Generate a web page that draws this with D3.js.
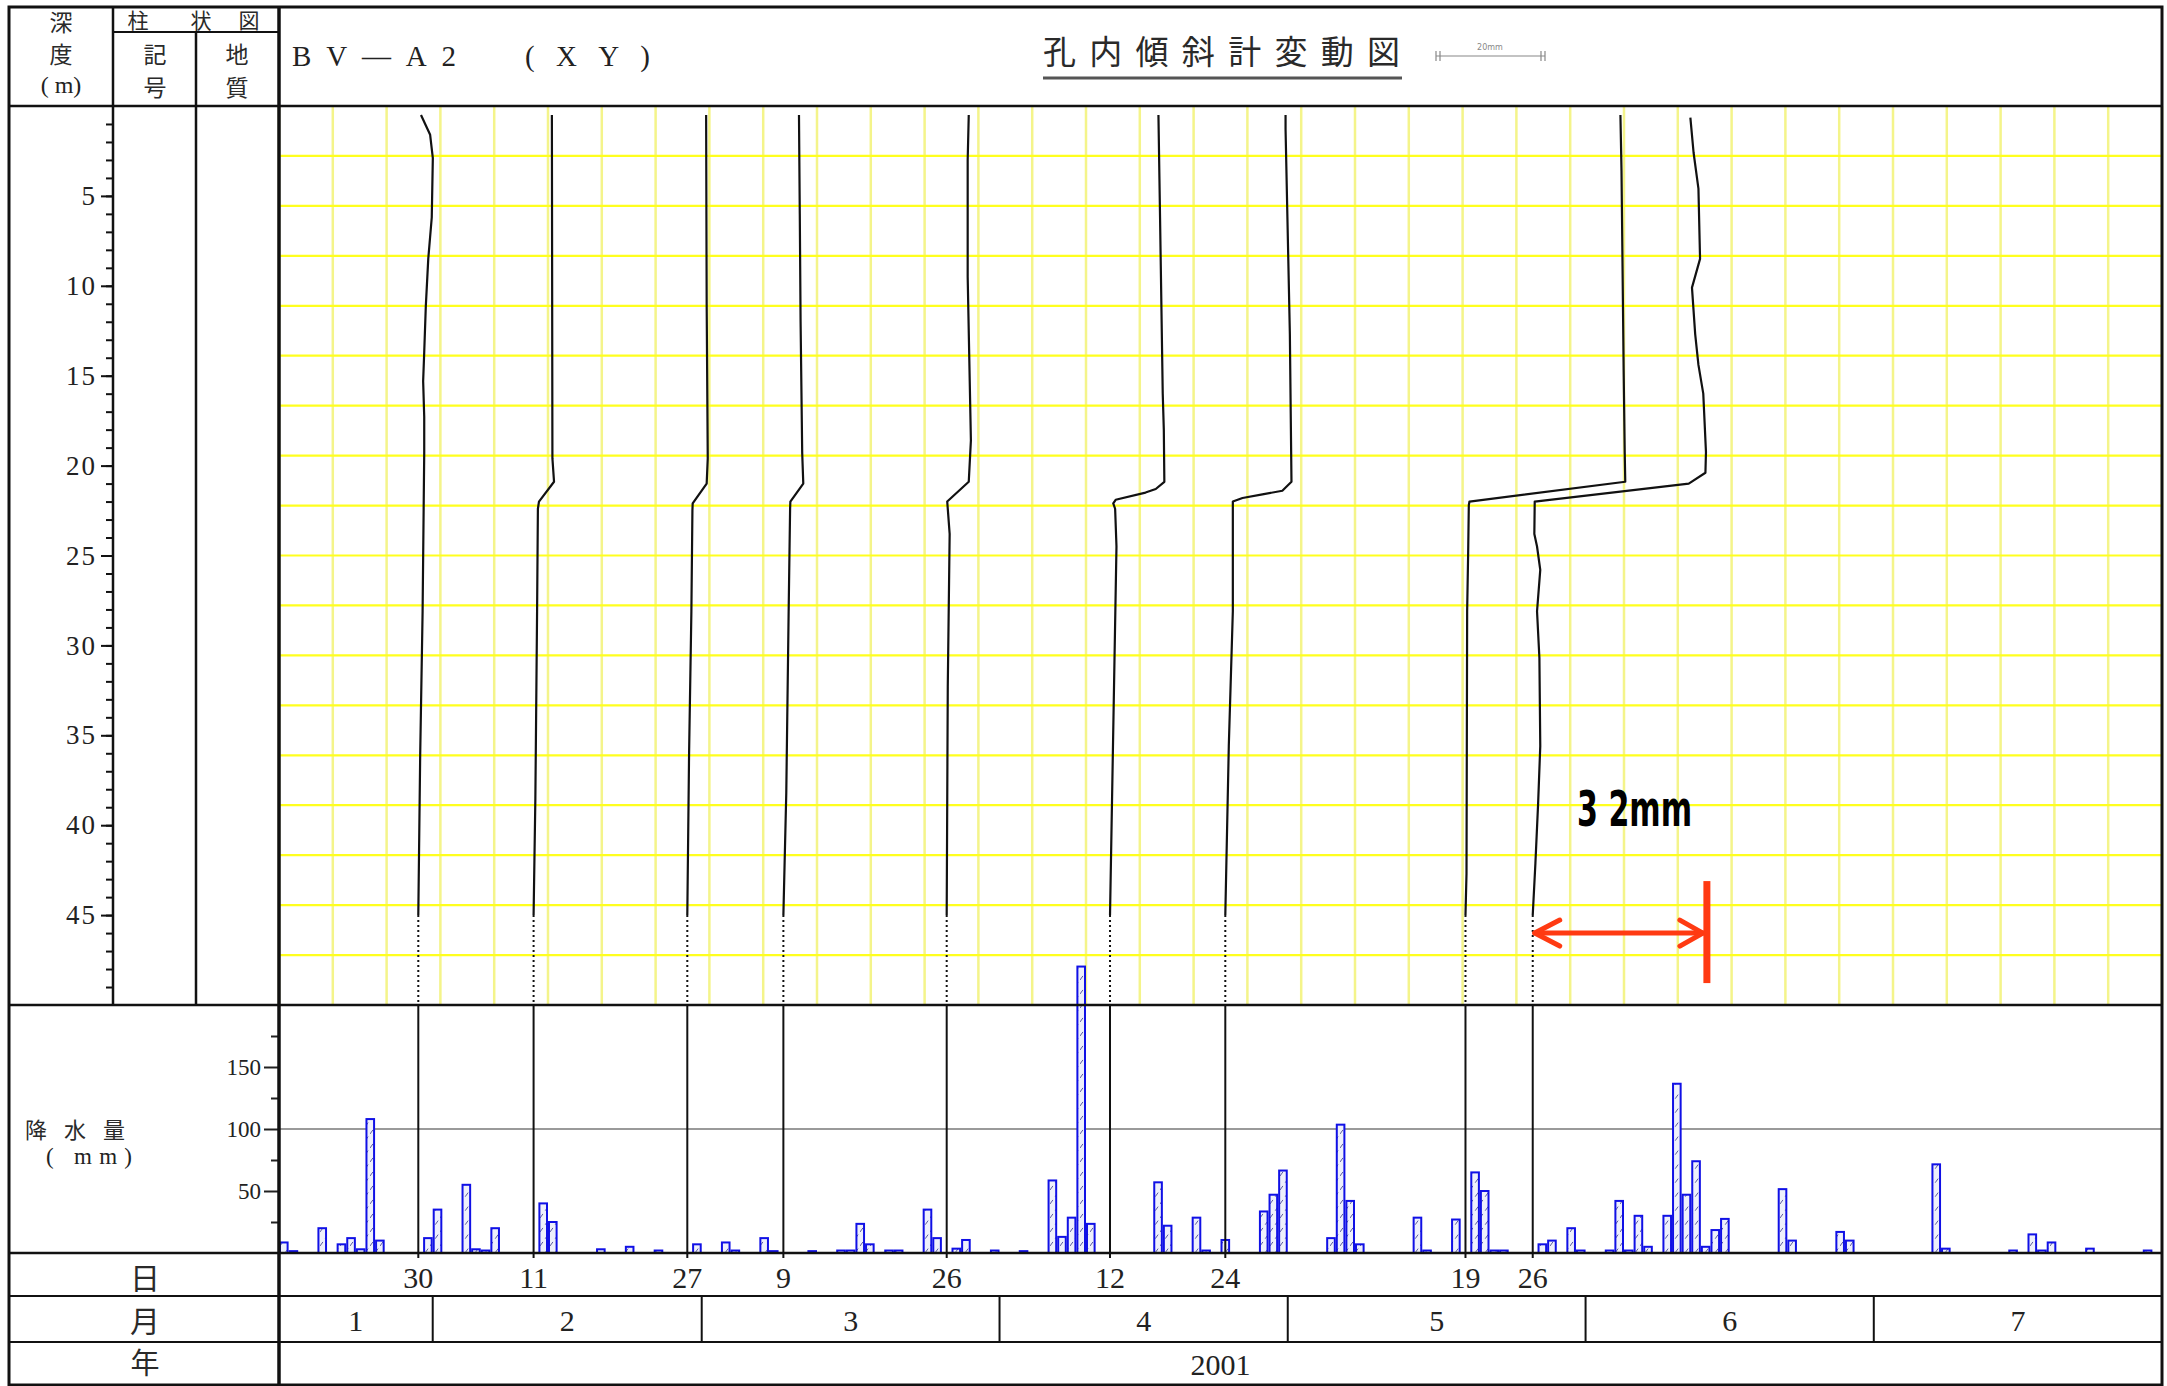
<!DOCTYPE html>
<html lang="ja">
<head>
<meta charset="utf-8">
<title>BV-A2 孔内傾斜計変動図</title>
<script src="https://cdn.jsdelivr.net/npm/d3@7"></script>
<style>
    body { margin: 0; background: #fff; }
    svg { display: block; }
    .jp { font-family: "Noto Sans CJK JP", sans-serif; fill: #2a2a2a; }
    .num { font-family: "Liberation Serif", "DejaVu Serif", serif; fill: #222; }
</style>
</head>
<body>
<div id="chart"></div>
<script>

// reading dates of the inclinometer and the day labels under them
var readDates = ["2001-01-30", "2001-02-11", "2001-02-27", "2001-03-09", "2001-03-26",
                 "2001-04-12", "2001-04-24", "2001-05-19", "2001-05-26"];
var dayLabels = ["30", "11", "27", "9", "26", "12", "24", "19", "26"];

// displacement profiles, [depth m, displacement mm] (relative to the bottom)
var prof0130 = [[0.5,0.5],[1.6,2.2],[2.9,2.7],[6.2,2.5],[8.5,1.85],[11.1,1.4],[13.7,1.1],[15.3,0.9],
                [17.3,1.1],[19.3,1.1],[28.1,0.8],[36.1,0.35],[45,0]];
var prof0211 = [[0.5,3.4],[19.6,3.5],[20.9,3.8],[22.0,1.0],[22.4,0.8],[28.1,0.65],[38.5,0.33],[45,0]];
var prof0227 = [[0.5,3.5],[11,3.6],[19.6,3.8],[21.0,3.6],[22.1,1.0],[22.5,0.95],[28.1,0.76],[36,0.33],[45,0]];
var prof0309 = [[0.5,2.9],[6,3.05],[12,3.2],[19.3,3.5],[21.0,3.7],[22.0,1.3],[22.4,1.25],[28.1,0.98],
                [38.2,0.54],[45,0]];
var prof0326 = [[0.5,4.1],[3,3.9],[9.5,3.9],[18.6,4.5],[20.9,4.1],[22.0,0.1],[23.8,0.55],[32.3,0.2],[45,0]];
var prof0412 = [[0.5,9.0],[6.2,9.3],[16.0,9.8],[18,10.0],[20.9,10.1],[21.3,8.5],[21.5,6.6],[21.9,1.05],
                [22.1,0.6],[22.4,0.95],[24.5,1.2],[35.6,0.55],[45,0]];
var prof0424 = [[0.5,11.2],[1.3,11.2],[12.7,12.0],[20.9,12.3],[21.4,10.6],[21.6,6.9],[21.8,3.2],[22.0,1.4],
                [28.1,1.4],[35.6,0.65],[45,0]];
var prof0519 = [[0.5,28.8],[3.6,29.0],[14.7,29.4],[19.3,29.6],[20.9,29.7],[22.0,0.74],[22.2,0.62],
                [24.8,0.5],[28.1,0.31],[42.7,0.19],[45,0]];
var prof0526 = [[0.65,29.3],[2.6,29.9],[4.6,30.8],[8.5,31.1],[10.1,29.6],[12.7,30.2],[14.4,30.8],[16.0,31.7],
                [19.25,32.2],[20.4,32.1],[21.0,29.0],[22.0,0.37],[23.8,0.3],[24.5,0.8],[25.8,1.4],[28.1,0.8],
                [30.7,1.24],[35.6,1.4],[38.8,1.0],[42.1,0.5],[45,0]];
var profiles = [prof0130, prof0211, prof0227, prof0309, prof0326, prof0412, prof0424, prof0519, prof0526];

// daily rainfall (mm)
var rainfall = [
    ["2001-01-16",8.5],["2001-01-17",1.5],["2001-01-20",20],["2001-01-22",7],["2001-01-23",12],
    ["2001-01-24",3],["2001-01-25",108],["2001-01-26",10],["2001-01-31",12],["2001-02-01",35],
    ["2001-02-04",55],["2001-02-05",3],["2001-02-06",2],["2001-02-07",20],["2001-02-12",40],
    ["2001-02-13",25],["2001-02-18",3],["2001-02-21",5],["2001-02-24",2],["2001-02-28",7],
    ["2001-03-03",8.5],["2001-03-04",2],["2001-03-07",12],["2001-03-08",1.5],["2001-03-12",1.5],
    ["2001-03-15",2],["2001-03-16",2],["2001-03-17",23.5],["2001-03-18",7],["2001-03-20",2],
    ["2001-03-21",2],["2001-03-24",35],["2001-03-25",12],["2001-03-27",3.5],["2001-03-28",10.5],
    ["2001-03-31",2],["2001-04-03",1.5],["2001-04-06",58.5],["2001-04-07",13],["2001-04-08",28.5],
    ["2001-04-09",231],["2001-04-10",23.5],["2001-04-17",57],["2001-04-18",22],["2001-04-21",28.5],
    ["2001-04-22",2],["2001-04-24",10.5],["2001-04-28",33.5],["2001-04-29",47],["2001-04-30",66.5],
    ["2001-05-05",12],["2001-05-06",103.5],["2001-05-07",42],["2001-05-08",7],["2001-05-14",28.5],
    ["2001-05-15",2],["2001-05-18",27],["2001-05-20",65],["2001-05-21",50],["2001-05-22",2],
    ["2001-05-23",2],["2001-05-27",7],["2001-05-28",10],["2001-05-30",20],["2001-05-31",2],
    ["2001-06-03",2],["2001-06-04",42],["2001-06-05",2],["2001-06-06",30],["2001-06-07",5],
    ["2001-06-09",30],["2001-06-10",136.5],["2001-06-11",47],["2001-06-12",74],["2001-06-13",5],
    ["2001-06-14",18.5],["2001-06-15",27.5],["2001-06-21",51.5],["2001-06-22",10],["2001-06-27",17],
    ["2001-06-28",10],["2001-07-07",71.5],["2001-07-08",3.5],["2001-07-15",2],["2001-07-17",15],
    ["2001-07-18",2],["2001-07-19",8.5],["2001-07-23",3.5],["2001-07-29",2]
];

var months = [1, 2, 3, 4, 5, 6, 7];
// month band edges (first = axis start, last = axis end)
var monthEdges = ["2001-01-16", "2001-02-01", "2001-03-01", "2001-04-01", "2001-05-01",
                  "2001-06-01", "2001-07-01", "2001-07-31"];
var depthTicks = [5, 10, 15, 20, 25, 30, 35, 40, 45];
var rainTicks = [50, 100, 150];
var markedMax = 32;   // mm, shown with the red arrow

var W = 2167, H = 1386;
var L = 9, T = 7, R = 2162, B = 1385;
var col1 = 113, col2 = 196, plotL = 279;
var headB = 106, depthB = 1005, rainB = 1253, dayB = 1296, monB = 1342;

var parse = d3.timeParse("%Y-%m-%d");

var svg = d3.select("#chart").append("svg")
    .attr("width", W)
    .attr("height", H);

// scales
var xTime = d3.scaleTime()
    .domain([parse(monthEdges[0]), parse(monthEdges[monthEdges.length - 1])])
    .range([plotL, R]);
var xDisp = d3.scaleLinear().domain([0, 350]).range([plotL, R]);   // 10 mm per grid cell
var yDepth = d3.scaleLinear().domain([0, 50]).range([headB, depthB]);
var yRain = d3.scaleLinear().domain([0, 200]).range([rainB, depthB]);

function mm(v) { return xDisp(v) - xDisp(0); }
function noon(s) { return d3.timeHour.offset(parse(s), 12); }

// hatch for rain bars
var defs = svg.append("defs");
var pat = defs.append("pattern")
    .attr("id", "hatch")
    .attr("patternUnits", "userSpaceOnUse")
    .attr("width", 10).attr("height", 14);
pat.append("rect").attr("width", 10).attr("height", 14).attr("fill", "#eef0fb");
pat.append("line")
    .attr("x1", 0).attr("y1", 14).attr("x2", 10).attr("y2", 0)
    .attr("stroke", "#5c5c9e").attr("stroke-width", 1)
    .attr("stroke-dasharray", "5,4");

// yellow grid
svg.append("g").selectAll("line")
    .data(d3.range(0, 351, 10))
    .enter().append("line")
    .attr("x1", d => xDisp(d)).attr("x2", d => xDisp(d))
    .attr("y1", headB).attr("y2", depthB)
    .attr("stroke", "#f4f48a").attr("stroke-width", 2.5);
svg.append("g").selectAll("line")
    .data(d3.range(19))
    .enter().append("line")
    .attr("x1", plotL).attr("x2", R)
    .attr("y1", d => yDepth(d * 50 / 18)).attr("y2", d => yDepth(d * 50 / 18))
    .attr("stroke", "#ffff1e").attr("stroke-width", 2.2);

// 100 mm line in rain panel
svg.append("line")
    .attr("x1", plotL).attr("x2", R)
    .attr("y1", yRain(100)).attr("y2", yRain(100))
    .attr("stroke", "#9a9a9a").attr("stroke-width", 2);

// rain bars
svg.append("g").selectAll("rect")
    .data(rainfall)
    .enter().append("rect")
    .attr("x", d => xTime(parse(d[0])) + 1)
    .attr("width", d => xTime(d3.timeDay.offset(parse(d[0]), 1)) - xTime(parse(d[0])) - 2)
    .attr("y", d => yRain(d[1]))
    .attr("height", d => yRain(0) - yRain(d[1]))
    .attr("fill", "url(#hatch)")
    .attr("stroke", "#1010e6").attr("stroke-width", 2);

// reading day lines: dotted below the profile, solid through the rain panel
var rd = svg.append("g");
readDates.forEach(function(s) {
    var x = xTime(noon(s));
    rd.append("line")
        .attr("x1", x).attr("x2", x).attr("y1", yDepth(45)).attr("y2", depthB)
        .attr("stroke", "#111").attr("stroke-width", 2).attr("stroke-dasharray", "2,3");
    rd.append("line")
        .attr("x1", x).attr("x2", x).attr("y1", depthB).attr("y2", rainB + 5)
        .attr("stroke", "#111").attr("stroke-width", 2);
});

// profiles
var line = d3.line()
    .x(d => d.x0 + mm(d[1]))
    .y(d => yDepth(d[0]));
profiles.forEach(function(p, i) {
    var x0 = xTime(noon(readDates[i]));
    var pts = p.map(d => { var q = [d[0], d[1]]; q.x0 = x0; return q; });
    svg.append("path")
        .attr("d", line(pts))
        .attr("fill", "none")
        .attr("stroke", "#111")
        .attr("stroke-width", 2.2)
        .attr("stroke-linejoin", "round");
});

// red 32 mm marker
var xa = xTime(noon(readDates[readDates.length - 1]));
var xb = xa + mm(markedMax);
var ya = yDepth(46);
var red = "#ff3a12";
var mk = svg.append("g").attr("stroke", red).attr("fill", "none")
    .attr("stroke-width", 5).attr("stroke-linecap", "round").attr("stroke-linejoin", "round");
mk.append("line").attr("x1", xa + 2).attr("x2", xb - 2).attr("y1", ya).attr("y2", ya);
mk.append("path").attr("d", "M" + (xa + 27) + "," + (ya - 13) + "L" + (xa + 2) + "," + ya + "L" + (xa + 27) + "," + (ya + 13));
mk.append("path").attr("d", "M" + (xb - 25) + "," + (ya - 13) + "L" + (xb - 2) + "," + ya + "L" + (xb - 25) + "," + (ya + 13));
mk.append("line").attr("x1", xb + 2).attr("x2", xb + 2).attr("y1", ya - 52).attr("y2", ya + 50)
    .attr("stroke-width", 7).attr("stroke-linecap", "butt");
svg.append("text")
    .attr("x", 1577).attr("y", 826)
    .attr("textLength", 115).attr("lengthAdjust", "spacingAndGlyphs")
    .attr("font-family", "'Liberation Sans Narrow', 'DejaVu Sans Condensed', sans-serif")
    .attr("font-weight", "bold").attr("font-size", 50)
    .attr("fill", "#000")
    .text("3 2mm");

// axes
var depthMinor = d3.axisLeft(yDepth).tickValues(d3.range(1, 50)).tickSize(7).tickFormat("");
var depthMajor = d3.axisLeft(yDepth).tickValues(depthTicks).tickSize(12).tickPadding(4);
[depthMinor, depthMajor].forEach(function(ax) {
    var g = svg.append("g").attr("transform", "translate(" + col1 + ",0)").call(ax);
    g.select(".domain").remove();
    g.selectAll("line").attr("stroke", "#111").attr("stroke-width", 2);
    g.selectAll("text").attr("class", "num").attr("font-size", 27).attr("letter-spacing", 2);
});
var rainMinor = d3.axisLeft(yRain).tickValues([25, 75, 125, 175]).tickSize(8).tickFormat("");
var rainMajor = d3.axisLeft(yRain).tickValues(rainTicks).tickSize(15).tickPadding(3);
[rainMinor, rainMajor].forEach(function(ax) {
    var g = svg.append("g").attr("transform", "translate(" + plotL + ",0)").call(ax);
    g.select(".domain").remove();
    g.selectAll("line").attr("stroke", "#222").attr("stroke-width", 2);
    g.selectAll("text").attr("class", "num").attr("font-size", 23).attr("fill", "#333");
});

// frame lines
var fr = svg.append("g").attr("stroke", "#111").attr("fill", "none");
fr.append("rect").attr("x", L).attr("y", T).attr("width", R - L).attr("height", B - T).attr("stroke-width", 3);
[[L, R, headB, 2.5], [col1, plotL, 32, 2], [L, R, depthB, 2.5], [L, R, rainB, 2.5],
 [L, R, dayB, 2], [L, R, monB, 2]].forEach(function(h) {
    fr.append("line").attr("x1", h[0]).attr("x2", h[1]).attr("y1", h[2]).attr("y2", h[2]).attr("stroke-width", h[3]);
});
[[col1, T, depthB, 2.5], [col2, 32, depthB, 2.5], [plotL, T, B, 3.5]].forEach(function(v) {
    fr.append("line").attr("x1", v[0]).attr("x2", v[0]).attr("y1", v[1]).attr("y2", v[2]).attr("stroke-width", v[3]);
});
monthEdges.slice(1, -1).forEach(function(s) {
    var x = xTime(parse(s));
    fr.append("line").attr("x1", x).attr("x2", x).attr("y1", dayB).attr("y2", monB).attr("stroke-width", 2);
});

// day / month / year labels
svg.append("g").selectAll("text")
    .data(readDates)
    .enter().append("text")
    .attr("class", "num")
    .attr("x", d => xTime(noon(d)))
    .attr("y", 1288)
    .attr("text-anchor", "middle")
    .attr("font-size", 30)
    .text((d, i) => dayLabels[i]);
svg.append("g").selectAll("text")
    .data(months)
    .enter().append("text")
    .attr("class", "num")
    .attr("x", (d, i) => (xTime(parse(monthEdges[i])) + xTime(parse(monthEdges[i + 1]))) / 2)
    .attr("y", 1331)
    .attr("text-anchor", "middle")
    .attr("font-size", 30)
    .text(d => d);
svg.append("text").attr("class", "num")
    .attr("x", (plotL + R) / 2).attr("y", 1375)
    .attr("text-anchor", "middle").attr("font-size", 30)
    .text("2001");

// left column texts
function jp(t, x, y, size) {
    return svg.append("text").attr("class", "jp")
        .attr("x", x).attr("y", y)
        .attr("text-anchor", "middle")
        .attr("dominant-baseline", "central")
        .attr("font-size", size)
        .text(t);
}
jp("深", 61, 21, 23);
jp("度", 61, 53, 23);
svg.append("text").attr("class", "num").attr("x", 61).attr("y", 93)
    .attr("text-anchor", "middle").attr("font-size", 24).text("( m)");
jp("柱", 138, 19, 21);
jp("状", 201, 19, 21);
jp("図", 249, 19, 21);
jp("記", 155, 53, 23);
jp("号", 155, 86, 23);
jp("地", 237, 53, 23);
jp("質", 237, 86, 23);
jp("日", 145, 1276, 30);
jp("月", 145, 1319, 30);
jp("年", 145, 1361, 29);
svg.append("text").attr("class", "jp")
    .attr("x", 25).attr("y", 1138).attr("font-size", 22)
    .attr("textLength", 100).attr("lengthAdjust", "spacing")
    .text("降水量");
svg.append("text").attr("class", "num")
    .attr("x", 46).attr("y", 1164).attr("font-size", 23)
    .attr("textLength", 86).attr("lengthAdjust", "spacing")
    .text("( mm)");

// header titles
svg.append("text").attr("class", "num")
    .attr("x", 292).attr("y", 66).attr("font-size", 29)
    .attr("textLength", 164).attr("lengthAdjust", "spacing")
    .text("BV—A2");
svg.append("text").attr("class", "num")
    .attr("x", 525).attr("y", 66).attr("font-size", 29)
    .attr("textLength", 125).attr("lengthAdjust", "spacing")
    .text("(XY)");
svg.append("text").attr("class", "jp")
    .attr("x", 1043).attr("y", 64).attr("font-size", 33)
    .attr("textLength", 357).attr("lengthAdjust", "spacing")
    .text("孔内傾斜計変動図");
svg.append("line")
    .attr("x1", 1043).attr("x2", 1402).attr("y1", 78).attr("y2", 78)
    .attr("stroke", "#555").attr("stroke-width", 3);

// small scale bar next to the title
var sb = svg.append("g").attr("stroke", "#888").attr("stroke-width", 1.2);
sb.append("line").attr("x1", 1436).attr("x2", 1545).attr("y1", 56).attr("y2", 56);
[1436, 1440, 1541, 1545].forEach(function(x) {
    sb.append("line").attr("x1", x).attr("x2", x).attr("y1", 51).attr("y2", 61);
});
svg.append("text").attr("x", 1490).attr("y", 50).attr("text-anchor", "middle")
    .attr("font-family", "'DejaVu Sans', sans-serif").attr("font-size", 8).attr("fill", "#888")
    .text("20mm");

</script>
</body>
</html>
